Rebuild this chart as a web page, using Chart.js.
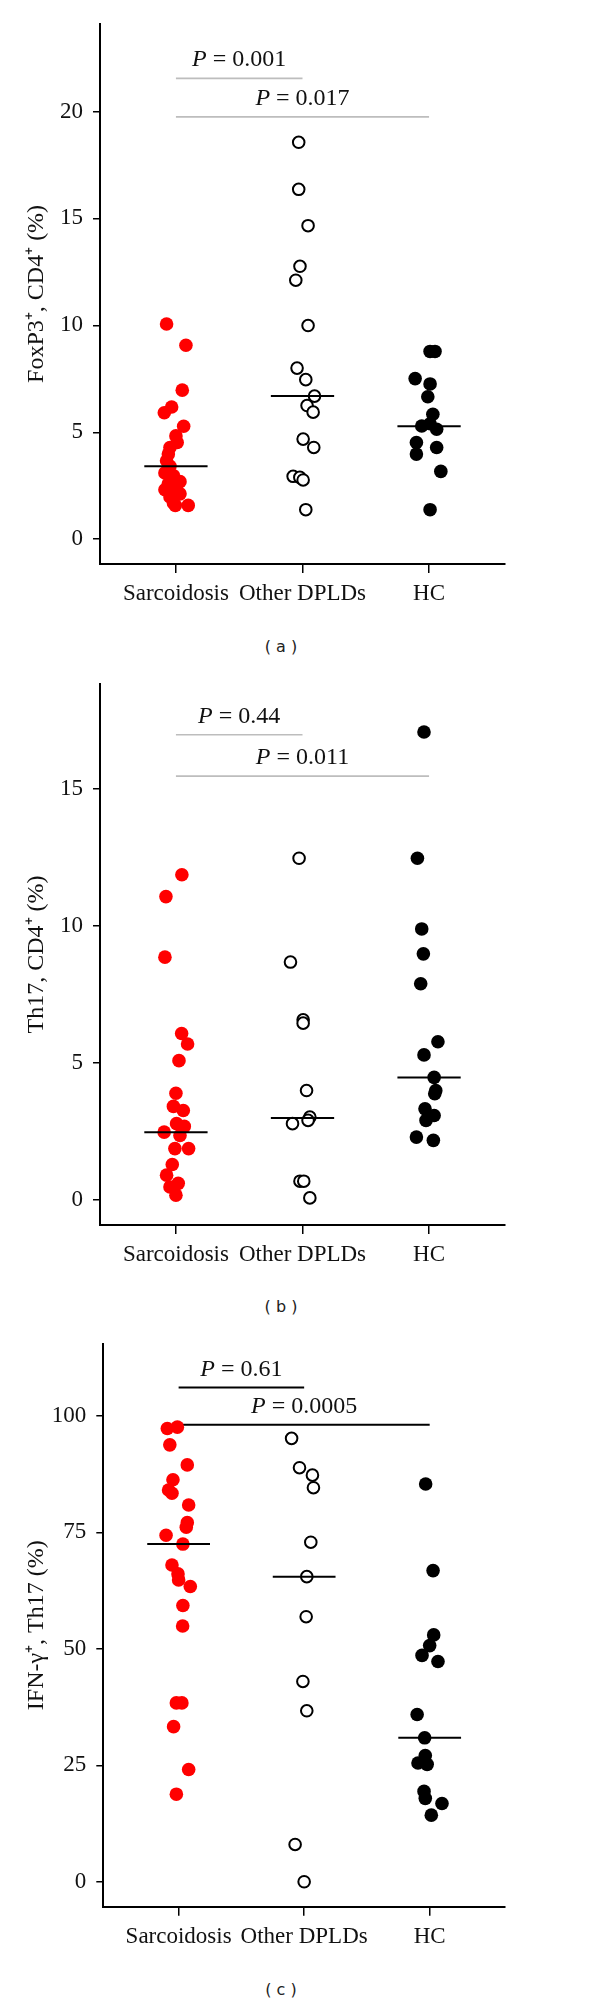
<!DOCTYPE html>
<html>
<head>
<meta charset="utf-8">
<title>FoxP3, Th17 and IFN-gamma scatter plots</title>
<script src="https://cdn.jsdelivr.net/npm/chart.js@4.4.0/dist/chart.umd.min.js"></script>
<style>
  body { margin: 0; background: #fff; }
  #page { position: relative; width: 600px; height: 2006px; }
  canvas { position: absolute; left: 0; }
  .sub { position: absolute; left: 241px; width: 80px; text-align: center;
         font: 16px "DejaVu Sans", sans-serif; color: #222; line-height: 20px; }
</style>
</head>
<body>
<div id="page">
  <canvas id="chartA" width="600" height="620" style="top:0px"></canvas>
  <div class="sub" style="top:637px">( a )</div>
  <canvas id="chartB" width="600" height="620" style="top:660px"></canvas>
  <div class="sub" style="top:1297px">( b )</div>
  <canvas id="chartC" width="600" height="640" style="top:1320px"></canvas>
  <div class="sub" style="top:1980px">( c )</div>
</div>
<script>
// groups on the x axis
const groups = ['Sarcoidosis', 'Other DPLDs', 'HC'];

// (a) FoxP3+, CD4+ (%)
const foxSarc = [10.06, 9.07, 6.97, 6.18, 5.91, 5.28, 4.83, 4.52, 4.29, 3.98, 3.67, 3.41, 3.1, 2.97, 2.69, 2.59, 2.35, 2.31, 2.12, 1.97, 1.69, 1.58, 1.58];
const foxSarcJit = [-0.074, 0.079, 0.05, -0.034, -0.092, 0.061, 0.0, 0.01, -0.047, -0.06, -0.074, -0.047, -0.087, -0.02, 0.032, -0.06, 0.005, -0.087, 0.032, -0.047, -0.02, 0.097, -0.005];
const foxDpld = [18.56, 16.36, 14.66, 12.76, 12.11, 9.99, 8.0, 7.46, 6.69, 6.25, 5.94, 4.68, 4.29, 2.94, 2.89, 2.77, 1.38];
const foxDpldJit = [-0.03, -0.03, 0.044, -0.02, -0.053, 0.044, -0.043, 0.026, 0.095, 0.036, 0.084, 0.005, 0.089, -0.074, -0.021, 0.005, 0.026];
const foxHc = [8.78, 8.78, 7.51, 7.26, 6.66, 5.84, 5.4, 5.29, 5.14, 4.52, 4.29, 3.98, 3.17, 1.38];
const foxHcJit = [0.008, 0.047, -0.11, 0.008, -0.01, 0.03, 0.008, -0.058, 0.06, -0.1, 0.06, -0.1, 0.093, 0.008];
const foxMedians = [3.41, 6.69, 5.28];
const foxTicks = [0, 5, 10, 15, 20];
const foxP = ['0.001', '0.017'];

// (b) Th17, CD4+ (%)
const th17Sarc = [11.88, 11.08, 8.87, 6.08, 5.7, 5.09, 3.9, 3.42, 3.27, 2.79, 2.69, 2.48, 2.36, 1.88, 1.88, 1.3, 0.91, 0.61, 0.48, 0.18];
const th17SarcJit = [0.047, -0.079, -0.087, 0.045, 0.092, 0.024, 0.0, -0.02, 0.058, 0.005, 0.066, -0.093, 0.032, -0.008, 0.1, -0.029, -0.074, 0.018, -0.047, 0.0];
const th17Dpld = [12.48, 8.69, 6.58, 6.46, 4.0, 3.03, 2.91, 2.79, 0.69, 0.69, 0.08];
const th17DpldJit = [-0.027, -0.095, 0.005, 0.005, 0.032, 0.058, 0.044, -0.079, -0.02, 0.01, 0.058];
const th17Hc = [17.09, 12.48, 9.9, 8.99, 7.9, 5.78, 5.3, 4.48, 4.0, 3.88, 3.33, 3.09, 2.91, 2.3, 2.18];
const th17HcJit = [-0.04, -0.092, -0.058, -0.045, -0.066, 0.07, -0.04, 0.04, 0.053, 0.045, -0.032, 0.04, -0.024, -0.1, 0.034];
const th17Medians = [2.48, 3.0, 4.48];
const th17Ticks = [0, 5, 10, 15];
const th17P = ['0.44', '0.011'];

// (c) IFN-gamma+, Th17 (%)
const ifnSarc = [97.3, 97.6, 93.8, 89.5, 86.3, 84.1, 83.4, 80.9, 77.1, 76.1, 74.4, 72.5, 68.0, 66.1, 64.8, 63.4, 59.3, 54.9, 38.4, 38.4, 33.3, 24.1, 18.8];
const ifnSarcJit = [-0.09, -0.01, -0.07, 0.069, -0.045, -0.08, -0.053, 0.08, 0.069, 0.061, -0.1, 0.034, -0.053, -0.005, 0.0, 0.093, 0.034, 0.032, -0.018, 0.026, -0.04, 0.08, -0.018];
const ifnDpld = [95.2, 88.9, 87.3, 84.6, 72.9, 65.5, 56.9, 43.0, 36.7, 8.0, 0];
const ifnDpldJit = [-0.1, -0.037, 0.066, 0.074, 0.053, 0.021, 0.016, -0.01, 0.021, -0.072, 0.0];
const ifnHc = [85.4, 66.8, 53.0, 50.7, 48.6, 47.3, 35.9, 30.9, 27.1, 25.5, 25.2, 19.4, 17.9, 16.8, 14.3];
const ifnHcJit = [-0.032, 0.027, 0.032, 0.0, -0.061, 0.066, -0.1, -0.04, -0.035, -0.093, -0.02, -0.045, -0.035, 0.098, 0.013];
const ifnMedians = [72.5, 65.5, 30.9];
const ifnTicks = [0, 25, 50, 75, 100];
const ifnP = ['0.61', '0.0005'];

const serif = '"Liberation Serif", "Times New Roman", serif';

// marker look per group
const markers = [
    { r: 6.8, fill: '#ff0000', stroke: '#ff0000', bw: 0 },
    { r: 5.8, fill: '#ffffff', stroke: '#000000', bw: 2 },
    { r: 6.8, fill: '#000000', stroke: '#000000', bw: 0 }
];

// draws the "P = ..." text above each bracket
const pLabels = {
    id: 'pLabels',
    afterDatasetsDraw(chart, args, opts) {
        const ctx = chart.ctx;
        const x = chart.scales.x, y = chart.scales.y;
        ctx.save();
        ctx.fillStyle = '#111';
        ctx.textBaseline = 'alphabetic';
        opts.items.forEach(b => {
            const cx = (x.getPixelForValue(b.from) + x.getPixelForValue(b.to)) / 2;
            const by = y.getPixelForValue(b.y) - 12;
            const rest = ' = ' + b.text;
            ctx.font = 'italic 24px ' + serif;
            const w1 = ctx.measureText('P').width;
            ctx.font = '24px ' + serif;
            const w2 = ctx.measureText(rest).width;
            const sx = cx - (w1 + w2) / 2;
            ctx.font = 'italic 24px ' + serif;
            ctx.fillText('P', sx, by);
            ctx.font = '24px ' + serif;
            ctx.fillText(rest, sx + w1, by);
        });
        ctx.restore();
    }
};

function buildPanel(id, p) {
    const datasets = [];
    p.series.forEach((s, g) => {
        const m = markers[g];
        datasets.push({
            data: s[0].map((v, i) => ({ x: g + s[1][i], y: v })),
            showLine: false,
            pointRadius: m.r,
            pointHoverRadius: m.r,
            pointBackgroundColor: m.fill,
            pointBorderColor: m.stroke,
            pointBorderWidth: m.bw,
            order: 2
        });
    });
    p.medians.forEach((md, g) => {
        datasets.push({
            data: [{ x: g - 0.25, y: md }, { x: g + 0.25, y: md }],
            showLine: true, borderColor: '#000', borderWidth: 2, pointRadius: 0, order: 1
        });
    });
    p.brackets.forEach(b => {
        datasets.push({
            data: [{ x: b.from, y: b.y }, { x: b.to, y: b.y }],
            showLine: true, borderColor: p.bracketColor, borderWidth: p.bracketWidth, pointRadius: 0, order: 3
        });
    });

    return new Chart(document.getElementById(id), {
        type: 'scatter',
        data: { datasets: datasets },
        options: {
            responsive: false,
            animation: false,
            layout: { padding: { top: p.top, right: 95, bottom: 0, left: 0 } },
            plugins: {
                legend: { display: false },
                tooltip: { enabled: false },
                pLabels: { items: p.brackets.map((b, i) => ({ from: b.from, to: b.to, y: b.y, text: p.pValues[i] })) }
            },
            scales: {
                x: {
                    type: 'linear',
                    min: -0.6,
                    max: 2.6,
                    afterBuildTicks: scale => { scale.ticks = groups.map((g, i) => ({ value: i })); },
                    afterFit: scale => { scale.height = p.xHeight; },
                    ticks: {
                        autoSkip: false,
                        maxRotation: 0,
                        padding: 7,
                        color: '#111',
                        font: { family: serif, size: 23 },
                        callback: (v, i) => groups[i]
                    },
                    grid: { drawOnChartArea: false, drawTicks: true, tickLength: 9, color: '#000', lineWidth: 1.5 },
                    border: { display: true, color: '#000', width: 2 }
                },
                y: {
                    min: p.yMin,
                    max: p.yMax,
                    afterBuildTicks: scale => { scale.ticks = p.yTicks.map(v => ({ value: v })); },
                    afterFit: scale => { scale.width = p.yWidth; },
                    ticks: {
                        padding: 10,
                        color: '#111',
                        font: { family: serif, size: 23 }
                    },
                    title: {
                        display: true,
                        text: p.yTitle,
                        color: '#111',
                        font: { family: serif, size: 24 },
                        padding: { top: 22, bottom: 0 }
                    },
                    grid: { drawOnChartArea: false, drawTicks: true, tickLength: 7, color: '#000', lineWidth: 1.5 },
                    border: { display: true, color: '#000', width: 2 }
                }
            }
        },
        plugins: [pLabels]
    });
}

window.onload = function() {
    buildPanel('chartA', {
        series: [[foxSarc, foxSarcJit], [foxDpld, foxDpldJit], [foxHc, foxHcJit]],
        medians: foxMedians,
        yTicks: foxTicks,
        pValues: foxP,
        yTitle: 'FoxP3\u207A, CD4\u207A (%)',
        yMin: -1.16, yMax: 24.1,
        top: 20, xHeight: 56, yWidth: 100,
        brackets: [{ from: 0, to: 1, y: 21.55 }, { from: 0, to: 2, y: 19.75 }],
        bracketColor: '#bdbdbd', bracketWidth: 1.6
    });
    buildPanel('chartB', {
        series: [[th17Sarc, th17SarcJit], [th17Dpld, th17DpldJit], [th17Hc, th17HcJit]],
        medians: th17Medians,
        yTicks: th17Ticks,
        pValues: th17P,
        yTitle: 'Th17, CD4\u207A (%)',
        yMin: -0.91, yMax: 18.85,
        top: 21.7, xHeight: 55, yWidth: 100,
        brackets: [{ from: 0, to: 1, y: 16.99 }, { from: 0, to: 2, y: 15.48 }],
        bracketColor: '#bdbdbd', bracketWidth: 1.6
    });
    buildPanel('chartC', {
        series: [[ifnSarc, ifnSarcJit], [ifnDpld, ifnDpldJit], [ifnHc, ifnHcJit]],
        medians: ifnMedians,
        yTicks: ifnTicks,
        pValues: ifnP,
        yTitle: 'IFN-\u03B3\u207A, Th17 (%)',
        yMin: -5.36, yMax: 115.5,
        top: 22.7, xHeight: 53.3, yWidth: 103.3,
        brackets: [{ from: 0, to: 1, y: 106.1 }, { from: 0, to: 2, y: 98.1 }],
        bracketColor: '#000', bracketWidth: 2
    });
};
</script>
</body>
</html>
